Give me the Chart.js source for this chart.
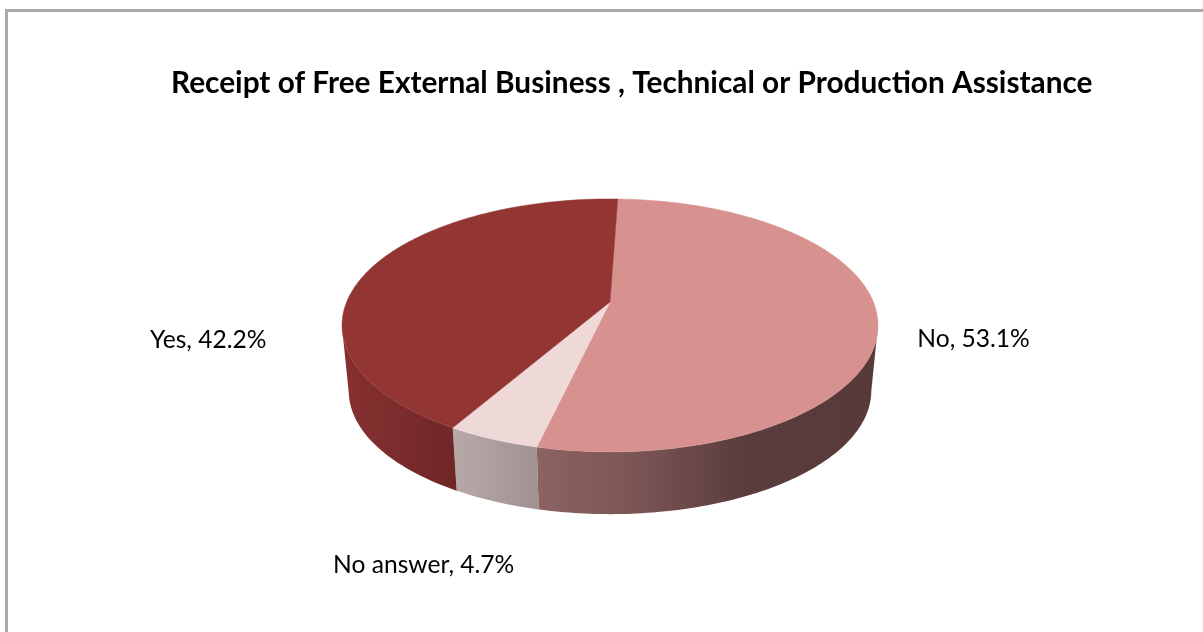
<!DOCTYPE html>
<html>
<head>
<meta charset="utf-8">
<title>Receipt of Free External Business , Technical or Production Assistance</title>
<script src="https://cdn.jsdelivr.net/npm/chart.js@4"></script>
<style>
  html, body { margin: 0; height: 100%; overflow: hidden; background: #fff; }
  #frame { position: absolute; left: 5px; top: 9px; width: 1300px; height: 700px;
           border-left: 3px solid #aaaaaa; border-top: 3px solid #aaaaaa; }
  #chart { display: block; }
</style>
</head>
<body>
<div id="frame"><canvas id="chart" width="1195" height="620"></canvas></div>
<script>
const chartTitle = 'Receipt of Free External Business , Technical or Production Assistance';
const categories = ['No', 'No answer', 'Yes'];
const shares = [53.1, 4.7, 42.2];

const topColors = ['#d79290', '#efd9d8', '#923533'];
// wall shading per slice: [x position on the page, colour]
const wallShades = [
  [[539, '#8c6262'], [640, '#7a5454'], [745, '#5a3c3c'], [880, '#583a3a']],
  [[455, '#b8a9a9'], [540, '#a09090']],
  [[345, '#873030'], [455, '#6f2727']]
];
// label anchor relative to the rim point at each slice's middle
const labelOffsets = [[96, 21], [-69, 126], [-161, 70]];

// tilted disc: half sizes of the top face and the strength of the perspective
const faceW = 263.3;
const faceH = 122.1;
const persp = 0.186;
const wallDrop = 66;
const wallShrink = 0.975;
const canvasLeft = 8; // canvas offset inside the page, for the shading positions

function project(arc, angle, scale, drop) {
  const x = Math.cos(angle), y = Math.sin(angle);
  const w = 1 - persp * y;
  return {
    x: arc.x + faceW * x / w * scale,
    y: arc.y + faceH * y / w * scale + drop
  };
}

function rimAngles(arc) {
  const list = [];
  const steps = Math.ceil((arc.endAngle - arc.startAngle) * 60);
  for (let i = 0; i <= steps; i++) {
    list.push(arc.startAngle + (arc.endAngle - arc.startAngle) * i / steps);
  }
  return list;
}

function drawWall(ctx, arc, index) {
  const shade = wallShades[index];
  const from = shade[0][0] - canvasLeft;
  const to = shade[shade.length - 1][0] - canvasLeft;
  const grad = ctx.createLinearGradient(from, 0, to, 0);
  shade.forEach(s => grad.addColorStop((s[0] - canvasLeft - from) / (to - from), s[1]));

  // the rim is widest where sin(angle) equals persp; only what lies in front of that shows
  const angles = rimAngles(arc).filter(a => Math.sin(a) >= persp);
  ctx.beginPath();
  angles.forEach((a, i) => {
    const p = project(arc, a, 1, 0);
    if (i === 0) ctx.moveTo(p.x, p.y); else ctx.lineTo(p.x, p.y);
  });
  angles.slice().reverse().forEach(a => {
    const p = project(arc, a, wallShrink, wallDrop);
    ctx.lineTo(p.x, p.y);
  });
  ctx.closePath();
  ctx.fillStyle = grad;
  ctx.fill();
}

function drawFace(ctx, arc, index) {
  ctx.beginPath();
  ctx.moveTo(arc.x, arc.y);
  rimAngles(arc).forEach(a => {
    const p = project(arc, a, 1, 0);
    ctx.lineTo(p.x, p.y);
  });
  ctx.closePath();
  ctx.fillStyle = topColors[index];
  ctx.strokeStyle = topColors[index];
  ctx.lineWidth = 0.5;
  ctx.fill();
  ctx.stroke();
}

const tiltedPie = {
  id: 'tiltedPie',
  afterLayout(chart) {
    // the title starts at the left padding but may run past the right one
    chart.titleBlock.right = chart.width;
  },
  beforeDatasetDraw(chart, args) {
    const ctx = chart.ctx;
    const arcs = args.meta.data;
    ctx.save();
    arcs.forEach((arc, i) => drawWall(ctx, arc, i));
    arcs.forEach((arc, i) => drawFace(ctx, arc, i));
    ctx.restore();
    return false;
  },
  afterDatasetsDraw(chart) {
    const ctx = chart.ctx;
    const arcs = chart.getDatasetMeta(0).data;
    ctx.save();
    ctx.font = '400 24.6px Lato';
    ctx.fillStyle = '#000';
    ctx.textAlign = 'center';
    ctx.textBaseline = 'middle';
    arcs.forEach((arc, i) => {
      const rim = project(arc, (arc.startAngle + arc.endAngle) / 2, 1, 0);
      const text = categories[i] + ', ' + shares[i].toFixed(1) + '%';
      ctx.fillText(text, rim.x + labelOffsets[i][0], rim.y + labelOffsets[i][1]);
    });
    ctx.restore();
  }
};

new Chart(document.getElementById('chart').getContext('2d'), {
  type: 'pie',
  data: {
    labels: categories,
    datasets: [{ data: shares, backgroundColor: topColors, borderWidth: 0 }]
  },
  options: {
    responsive: false,
    animation: false,
    rotation: 2,
    layout: { padding: { left: 163, right: 154, top: 0, bottom: 135 } },
    plugins: {
      legend: { display: false },
      tooltip: { enabled: false },
      title: {
        display: true,
        text: chartTitle,
        align: 'start',
        color: '#000',
        font: { family: 'Lato', size: 29.8, weight: 'bold', lineHeight: 1.2 },
        padding: { top: 54, bottom: 5 }
      }
    }
  },
  plugins: [tiltedPie]
});
</script>
</body>
</html>
